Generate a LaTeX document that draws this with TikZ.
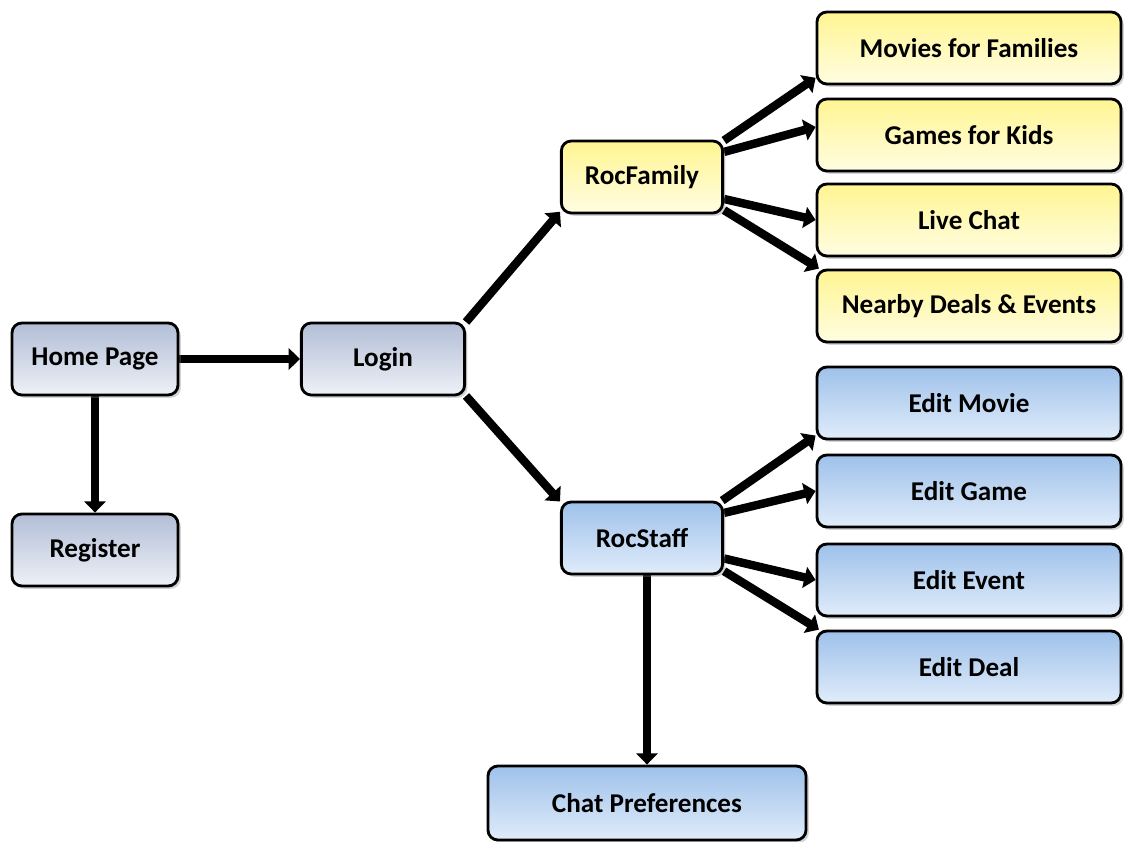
\documentclass[tikz,border=0pt]{standalone}
\usepackage{fontspec}
\setmainfont{Carlito}
\usetikzlibrary{arrows.meta,shadows}
\pgfdeclarelayer{bg}
\pgfsetlayers{bg,main}
\definecolor{graytop}{RGB}{178,190,214}
\definecolor{graybot}{RGB}{238,241,247}
\definecolor{yeltop}{RGB}{255,245,145}
\definecolor{yelbot}{RGB}{255,253,226}
\definecolor{bluetop}{RGB}{158,193,234}
\definecolor{bluebot}{RGB}{224,236,250}
\tikzset{
    box/.style={rectangle, draw=black, line width=2pt, rounded corners=7pt,
        minimum height=1.8cm, font=\fontsize{19.3}{21}\selectfont\bfseries,
        drop shadow={shadow xshift=2pt, shadow yshift=-2pt, opacity=.35}},
    graybox/.style={box, top color=graytop, bottom color=graybot},
    yelbox/.style={box, top color=yeltop, bottom color=yelbot},
    bluebox/.style={box, top color=bluetop, bottom color=bluebot},
    arr/.style={line width=6pt, -{Triangle[length=8pt, width=15pt]}}
}

\begin{document}
\begin{tikzpicture}
    \useasboundingbox (0,0) rectangle (28.1cm,-21.05cm);

    \node (home) [graybox, minimum width=4.15cm] at (2.375cm, -8.975cm) {Home Page};
    \node (reg) [graybox, minimum width=4.15cm] at (2.375cm, -13.75cm) {Register};
    \node (login) [graybox, minimum width=4.08cm] at (9.575cm, -8.975cm) {Login};
    \node (fam) [yelbox, minimum width=4.03cm] at (16.05cm, -4.425cm) {RocFamily};
    \node (staff) [bluebox, minimum width=4.03cm] at (16.05cm, -13.45cm) {RocStaff};
    \node (chat) [bluebox, minimum width=7.95cm, minimum height=1.85cm] at (16.175cm, -20.075cm) {Chat Preferences};

    \node (movies) [yelbox, minimum width=7.6cm] at (24.225cm, -1.2cm) {Movies for Families};
    \node (games) [yelbox, minimum width=7.6cm] at (24.225cm, -3.375cm) {Games for Kids};
    \node (live) [yelbox, minimum width=7.6cm] at (24.225cm, -5.5cm) {Live Chat};
    \node (deals) [yelbox, minimum width=7.6cm] at (24.225cm, -7.65cm) {Nearby Deals \& Events};

    \node (edmovie) [bluebox, minimum width=7.6cm] at (24.225cm, -10.075cm) {Edit Movie};
    \node (edgame) [bluebox, minimum width=7.6cm] at (24.225cm, -12.275cm) {Edit Game};
    \node (edevent) [bluebox, minimum width=7.6cm] at (24.225cm, -14.5cm) {Edit Event};
    \node (eddeal) [bluebox, minimum width=7.6cm] at (24.225cm, -16.675cm) {Edit Deal};

    \begin{pgfonlayer}{bg}
        \draw[arr] (home.east) -- (login.west);
        \draw[arr] (home.south) -- (reg.north);
        \draw[arr] (login.24) -- (fam.203);
        \draw[arr] (login.-24) -- (staff.156);

        \draw[arr] (fam.24) -- (movies.191);
        \draw[arr] (fam.17) -- (games.177);
        \draw[arr] (fam.-15) -- (live.west);
        \draw[arr] (fam.-22) -- (deals.166);

        \draw[arr] (staff.25) -- (edmovie.192);
        \draw[arr] (staff.17) -- (edgame.west);
        \draw[arr] (staff.-14) -- (edevent.west);
        \draw[arr] (staff.-22) -- (eddeal.166);

        \draw[arr] (chat.north |- staff.south) -- (chat.north);
    \end{pgfonlayer}
\end{tikzpicture}
\end{document}
